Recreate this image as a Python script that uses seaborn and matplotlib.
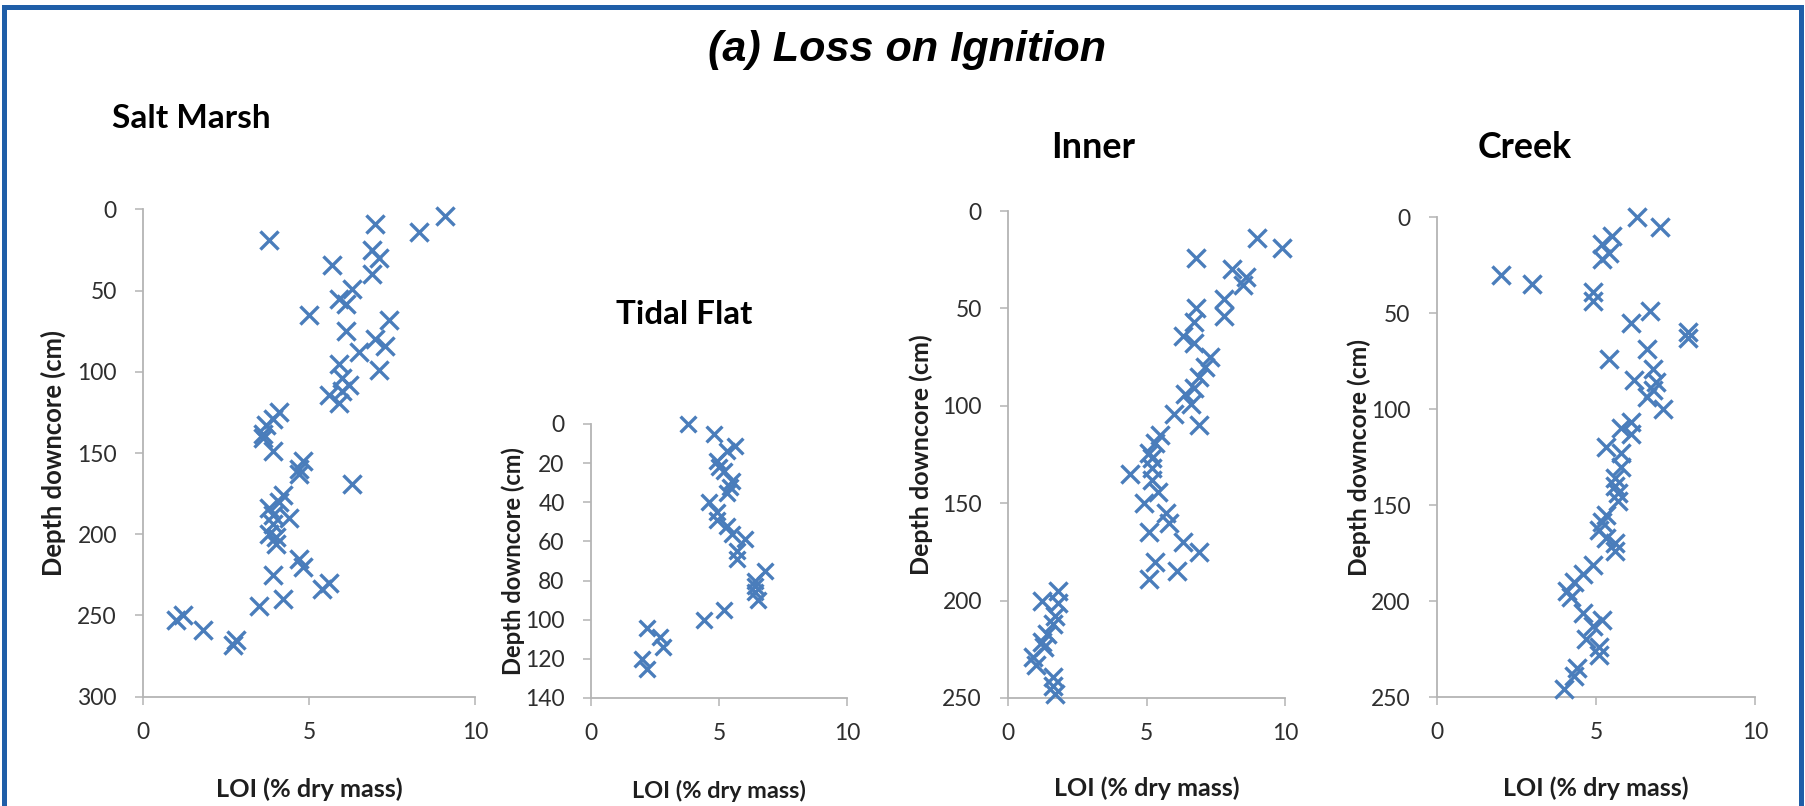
import matplotlib
matplotlib.use("Agg")
import matplotlib.pyplot as plt
import seaborn as sns
import pandas as pd
from matplotlib.patches import Rectangle

# ---------------- data (LOI % dry mass vs depth downcore cm) ----------------
sm_loi = [9.1, 7.0, 8.3, 3.8, 6.9, 7.1, 5.7, 6.9, 6.3, 5.9, 6.1, 5.0, 7.4, 6.1, 7.0, 7.3,
          6.5, 5.9, 7.1, 6.0, 6.2, 6.0, 5.6, 5.9,
          4.1, 3.9, 3.7, 3.6, 3.6, 3.9, 4.8, 4.7, 4.7, 6.3, 4.2, 4.1, 3.8, 3.9, 4.4, 3.9,
          3.8, 4.0, 4.0, 4.7, 4.8, 3.9, 5.6, 5.4, 4.2, 3.5, 1.2, 1.0, 1.8, 2.8, 2.7]
sm_depth = [4, 9, 14, 19, 25, 30, 34, 40, 49, 55, 58, 65, 68, 75, 80, 84,
            88, 95, 99, 104, 108, 112, 114, 119,
            125, 129, 133, 138, 141, 149, 155, 160, 163, 169, 176, 180, 184, 188, 190, 194,
            200, 202, 206, 215, 220, 225, 230, 234, 240, 244, 250, 253, 259, 265, 268]

tf_loi = [3.8, 4.8, 5.6, 5.3, 4.9, 5.0, 5.2, 5.5, 5.4, 5.3, 4.6, 4.9, 4.9, 5.3, 5.5,
          6.0, 5.7, 5.7, 6.8, 6.4, 6.4, 6.4, 6.5, 5.2, 4.4, 2.2, 2.7, 2.8, 2.0, 2.2]
tf_depth = [0, 5, 11, 14, 19, 22, 24, 29, 32, 35, 40, 45, 49, 52, 56,
            59, 65, 69, 75, 80, 83, 86, 90, 95, 100, 104, 109, 114, 120, 125]

in_loi = [9.0, 9.9, 6.8, 8.1, 8.6, 8.5, 7.8, 6.8, 7.8, 6.7, 6.3, 6.7, 7.3, 7.1, 6.9,
          6.7, 6.4, 6.6, 6.0, 6.9, 5.5, 5.3, 5.1, 5.2, 5.2, 4.4, 5.2, 5.4, 4.9, 5.7,
          5.8, 5.1, 6.3, 6.9, 5.3, 6.1, 5.1, 1.8, 1.2, 1.8, 1.7, 1.6, 1.4, 1.2, 1.3,
          0.9, 1.0, 1.6, 1.6, 1.7]
in_depth = [14, 19, 24, 30, 34, 38, 45, 50, 54, 57, 64, 68, 75, 80, 85,
            91, 94, 99, 104, 110, 115, 119, 124, 127, 132, 135, 138, 144, 150, 155,
            160, 165, 170, 175, 180, 185, 189, 195, 200, 201, 208, 212, 217, 221, 224,
            229, 233, 239, 244, 248]

cr_loi = [6.3, 7.0, 5.5, 5.2, 5.4, 5.2, 2.0, 3.0, 4.9, 4.9, 6.7, 6.1, 7.9, 7.9, 6.6,
          5.4, 6.8, 6.2, 6.9, 6.8, 6.6, 7.1, 6.1, 5.8, 6.1, 5.3, 5.8, 5.8, 5.6, 5.6,
          5.7, 5.7, 5.3, 5.2, 5.1, 5.3, 5.6, 5.6, 4.9, 4.6, 4.3, 4.1, 4.2, 4.6, 5.2,
          4.9, 4.7, 5.1, 5.1, 4.4, 4.3, 4.0]
cr_depth = [0, 5, 10, 14, 19, 22, 30, 35, 39, 44, 49, 55, 60, 63, 69,
            74, 79, 85, 86, 90, 94, 100, 107, 110, 113, 120, 123, 130, 136, 140,
            144, 148, 155, 159, 163, 167, 170, 174, 181, 186, 190, 195, 198, 206, 210,
            213, 220, 224, 228, 235, 239, 246]

titles = ["Salt Marsh", "Tidal Flat", "Inner", "Creek"]
x_ticks = [0, 5, 10]
x_label = "LOI (% dry mass)"
y_label = "Depth downcore (cm)"
main_title = "(a) Loss on Ignition"

# ---------------- styling ----------------
sns.set_theme(style="white")
plt.rcParams['font.family'] = ['Lato', 'DejaVu Sans']

W, H = 1806, 806
BLUE = "#4a7dbb"
AXIS_GRAY = "#b4b4b4"
TICK_TXT = "#2e2e2e"
BORDER = "#1f5ea8"

fig = plt.figure(figsize=(W / 100, H / 100), dpi=100)

panels = [
    dict(loi=sm_loi, depth=sm_depth, box=(143.3, 475, 209.3, 696.7), ymax=300, ystep=50,
         ylx=53, xly=789, tpos=(191, 119), tw=159, ylw=245, xlw=187, s=170),
    dict(loi=tf_loi, depth=tf_depth, box=(591, 847.5, 424, 698), ymax=140, ystep=20,
         ylx=513, xly=791, tpos=(684, 314), tw=136, ylw=228, xlw=173, s=130),
    dict(loi=in_loi, depth=in_depth, box=(1008.3, 1285, 211, 698), ymax=250, ystep=50,
         ylx=921, xly=788, tpos=(1093, 147), tw=84, ylw=240, xlw=185, s=170),
    dict(loi=cr_loi, depth=cr_depth, box=(1437, 1755, 217, 697), ymax=250, ystep=50,
         ylx=1359, xly=788, tpos=(1525, 148), tw=94, ylw=238, xlw=185, s=170),
]

fit_items = []
for p, ttl in zip(panels, titles):
    l, r, t, b = p["box"]
    ax = fig.add_axes([l / W, 1 - b / H, (r - l) / W, (b - t) / H])
    df = pd.DataFrame({"LOI": p["loi"], "Depth": p["depth"]})
    sns.scatterplot(data=df, x="LOI", y="Depth", ax=ax, marker="x", s=p["s"],
                    color=BLUE, linewidth=2.4, legend=False, clip_on=False, zorder=3)
    ax.set_xlim(0, 10)
    ax.set_ylim(p["ymax"], 0)
    ax.set_xticks(x_ticks)
    ax.set_yticks(list(range(0, p["ymax"] + 1, p["ystep"])))
    for side in ("top", "right"):
        ax.spines[side].set_visible(False)
    for side in ("left", "bottom"):
        ax.spines[side].set_color(AXIS_GRAY)
        ax.spines[side].set_linewidth(1.3)
    ax.tick_params(axis="both", direction="out", length=6, width=1.1, color=AXIS_GRAY,
                   labelsize=16.5, labelcolor=TICK_TXT)
    ax.tick_params(axis="y", pad=13)
    ax.tick_params(axis="x", pad=12)
    ax.tick_params(left=True, bottom=True)
    ax.grid(False)
    ax.set_facecolor("none")

    ax.set_xlabel(x_label, fontweight="bold", fontsize=15, color="#1e1e1e")
    ax.set_ylabel(y_label, fontweight="bold", fontsize=15, color="#1e1e1e")
    ax.xaxis.label.set_va("center")
    ax.yaxis.label.set_va("center")
    ax.xaxis.set_label_coords(0.5, (b - p["xly"]) / (b - t))
    ax.yaxis.set_label_coords((p["ylx"] - l) / (r - l), 0.5)
    fit_items.append((ax.xaxis.label, p["xlw"], False))
    fit_items.append((ax.yaxis.label, p["ylw"], True))

    tx = fig.text(p["tpos"][0] / W, 1 - p["tpos"][1] / H, ttl, ha="center", va="center",
                  fontweight="bold", fontsize=22, color="black")
    fit_items.append((tx, p["tw"], False))

mt = fig.text(907 / W, 1 - 50 / H, main_title, ha="center", va="center",
              family=["Liberation Sans", "DejaVu Sans"], style="italic", fontweight="bold",
              fontsize=28, color="black")
fit_items.append((mt, 398, False))

for _ in range(2):
    fig.canvas.draw()
    rend = fig.canvas.get_renderer()
    for art, target, vertical in fit_items:
        bb = art.get_window_extent(renderer=rend)
        cur = bb.height if vertical else bb.width
        if cur > 0:
            art.set_fontsize(art.get_fontsize() * target / cur)

fig.add_artist(Rectangle((4 / W, -0.2), (1801 - 4) / W, 1.2 - 7 / H,
                         transform=fig.transFigure, fill=False,
                         edgecolor=BORDER, linewidth=3.6))

fig.savefig("out.png", dpi=100)
